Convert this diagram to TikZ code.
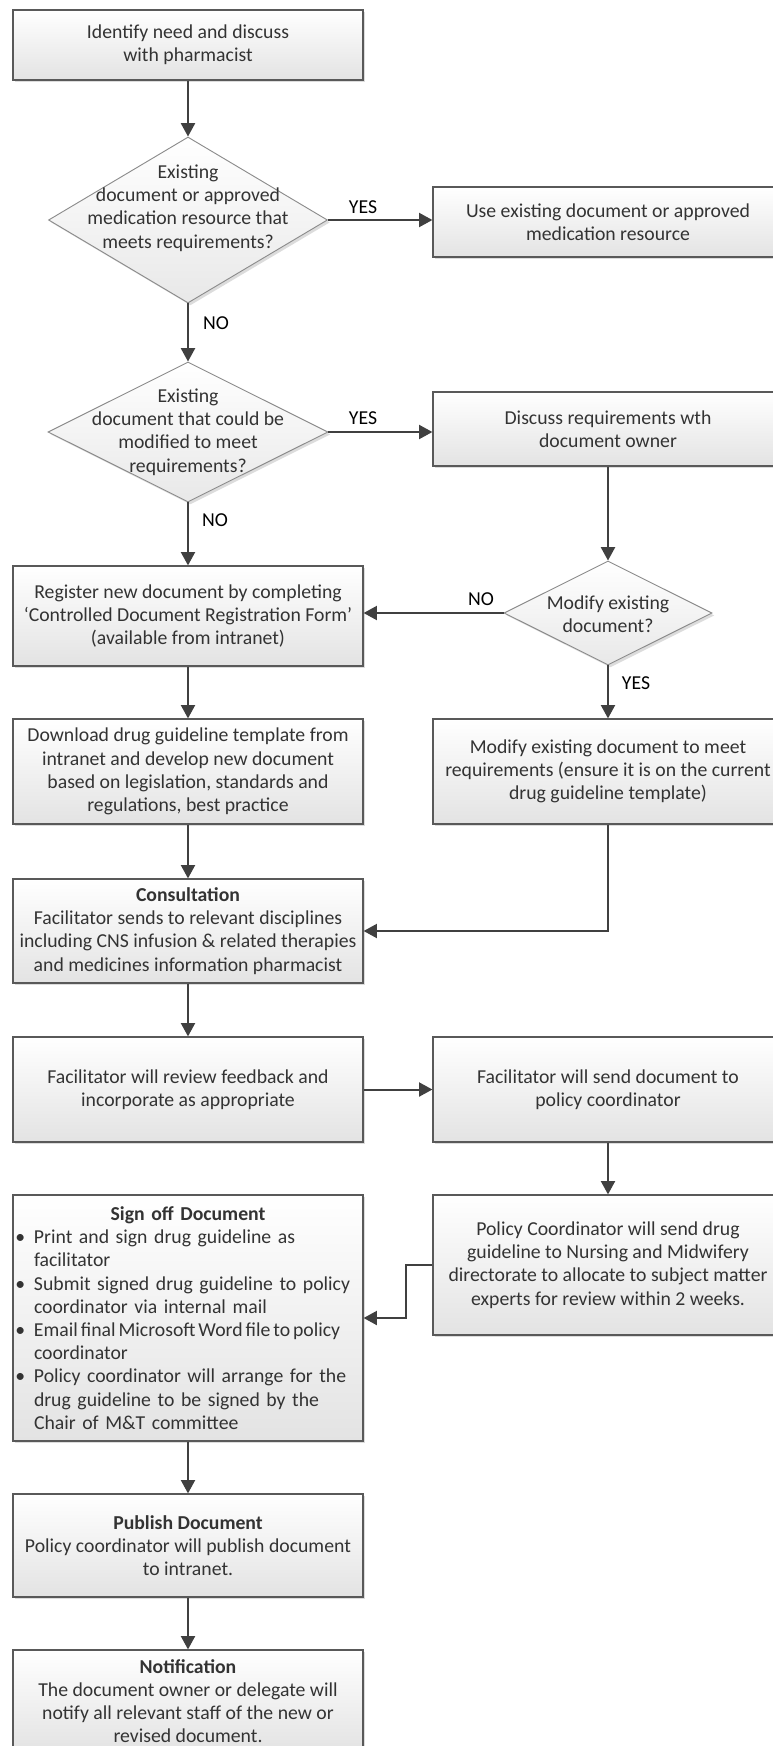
\documentclass[tikz,border=0pt]{standalone}
\usepackage{fontspec}
\setmainfont{Carlito}
\usetikzlibrary{arrows.meta,shapes.geometric,shadows}
\definecolor{boxline}{HTML}{595959}
\definecolor{dialine}{HTML}{8C8C8C}
\definecolor{arrcol}{HTML}{404040}
\definecolor{txtcol}{HTML}{333333}
\newcommand\bitem[1]{\par\noindent\hangindent=14pt\hangafter=1\makebox[14pt][l]{\textbullet}#1\par}
\tikzset{
  mainfont/.style={font=\fontsize{14.8pt}{17.4pt}\selectfont},
  fbox/.style={draw=boxline, line width=0.9pt, top color=white, bottom color=black!11,
    drop shadow={shadow xshift=1.8pt, shadow yshift=-1.8pt, fill=black!30, opacity=0.45},
    text=txtcol, align=center, inner sep=2pt, minimum width=262.5pt, mainfont},
  fdia/.style={diamond, draw=dialine, line width=0.7pt, top color=white, bottom color=black!9,
    drop shadow={shadow xshift=1.8pt, shadow yshift=-1.8pt, fill=black!30, opacity=0.45},
    inner sep=0pt},
  ditext/.style={text=txtcol, align=center, mainfont},
  lab/.style={text=black, mainfont, inner sep=1pt},
  conn/.style={draw=arrcol, line width=1.5pt, -{Triangle[length=10pt,width=10.5pt]}},
}
\begin{document}
\begin{tikzpicture}[x=0.75pt,y=-0.75pt]
\useasboundingbox (0,0) rectangle (773,1746);
\clip (0,0) rectangle (773,1746);

% left column
\node[fbox, minimum height=52.5pt] (b1) at (188,45) {Identify need and discuss\\with pharmacist};
\node[fdia, minimum width=209.25pt, minimum height=124.5pt] (d1) at (188,220) {};
\node[ditext] (d1t) at (188,208) {Existing\\document or approved\\medication resource that\\meets requirements?};
\node[fdia, minimum width=210pt, minimum height=105pt] (d2) at (188,432) {};
\node[ditext] (d2t) at (188,432) {Existing\\document that could be\\modified to meet\\requirements?};
\node[fbox, minimum height=75pt] (reg) at (188,616) {Register new document by completing\\‘Controlled Document Registration Form’\\(available from intranet)};
\node[fbox, minimum height=78.75pt] (down) at (188,771.5) {Download drug guideline template from\\intranet and develop new document\\based on legislation, standards and\\regulations, best practice};
\node[fbox, minimum height=78pt] (cons) at (188,931) {\textbf{Consultation}\\Facilitator sends to relevant disciplines\\including CNS infusion \& related therapies\\and medicines information pharmacist};
\node[fbox, minimum height=78.75pt] (rev) at (188,1089.5) {Facilitator will review feedback and\\incorporate as appropriate};
\node[fbox, minimum height=184.5pt, text width=259pt, inner sep=1.5pt, align=left] (sign) at (188,1318) {%
\centering\textbf{Sign off Document}\par
\raggedright
\bitem{Print and sign drug guideline as\newline facilitator}
\bitem{Submit signed drug guideline to policy\newline coordinator via internal mail}
\bitem{\mbox{\spaceskip=0.15em Email final Microsoft Word file to policy}\newline coordinator}
\bitem{Policy coordinator will arrange for the\newline drug guideline to be signed by the\newline Chair of M\&T committee}};
\node[fbox, minimum height=77.25pt] (pub) at (188,1545.5) {\textbf{Publish Document}\\Policy coordinator will publish document\\to intranet.};
\node[fbox, minimum height=76.5pt] (note) at (188,1701) {\textbf{Notification}\\The document owner or delegate will\\notify all relevant staff of the new or\\revised document.};

% right column
\node[fbox, minimum height=52.5pt] (use) at (608,222) {Use existing document or approved\\medication resource};
\node[fbox, minimum height=55.5pt] (disc) at (608,429) {Discuss requirements wth\\document owner};
\node[fdia, minimum width=156pt, minimum height=78pt] (d3) at (608,613) {};
\node[ditext] (d3t) at (608,614) {Modify existing\\document?};
\node[fbox, minimum height=78.75pt] (mod) at (608,771.5) {Modify existing document to meet\\requirements (ensure it is on the current\\drug guideline template)};
\node[fbox, minimum height=78.75pt] (send) at (608,1089.5) {Facilitator will send document to\\policy coordinator};
\node[fbox, minimum height=105pt] (pol) at (608,1265) {Policy Coordinator will send drug\\guideline to Nursing and Midwifery\\directorate to allocate to subject matter\\experts for review within 2 weeks.};

% labels
\node[lab] (yes1) at (363,207) {YES};
\node[lab] (no1) at (216,323) {NO};
\node[lab] (yes2) at (363,418) {YES};
\node[lab] (no2) at (215,520) {NO};
\node[lab] (no3) at (481,599) {NO};
\node[lab] (yes3) at (636,683) {YES};

% connectors
\draw[conn] (b1) -- (d1);
\draw[conn] (d1.east) -- (d1.east -| use.west);
\draw[conn] (d1) -- (d2);
\draw[conn] (d2.east) -- (d2.east -| disc.west);
\draw[conn] (d2) -- (reg);
\draw[conn] (disc) -- (d3);
\draw[conn] (d3.west) -- (d3.west -| reg.east);
\draw[conn] (d3) -- (mod);
\draw[conn] (reg) -- (down);
\draw[conn] (down) -- (cons);
\draw[conn] (mod.south) |- (cons.east);
\draw[conn] (cons) -- (rev);
\draw[conn] (rev) -- (send);
\draw[conn] (send) -- (pol);
\draw[conn] (pol.west) -- ++(-26,0) |- (sign.east);
\draw[conn] (sign) -- (pub);
\draw[conn] (pub) -- (note);
\end{tikzpicture}
\end{document}
